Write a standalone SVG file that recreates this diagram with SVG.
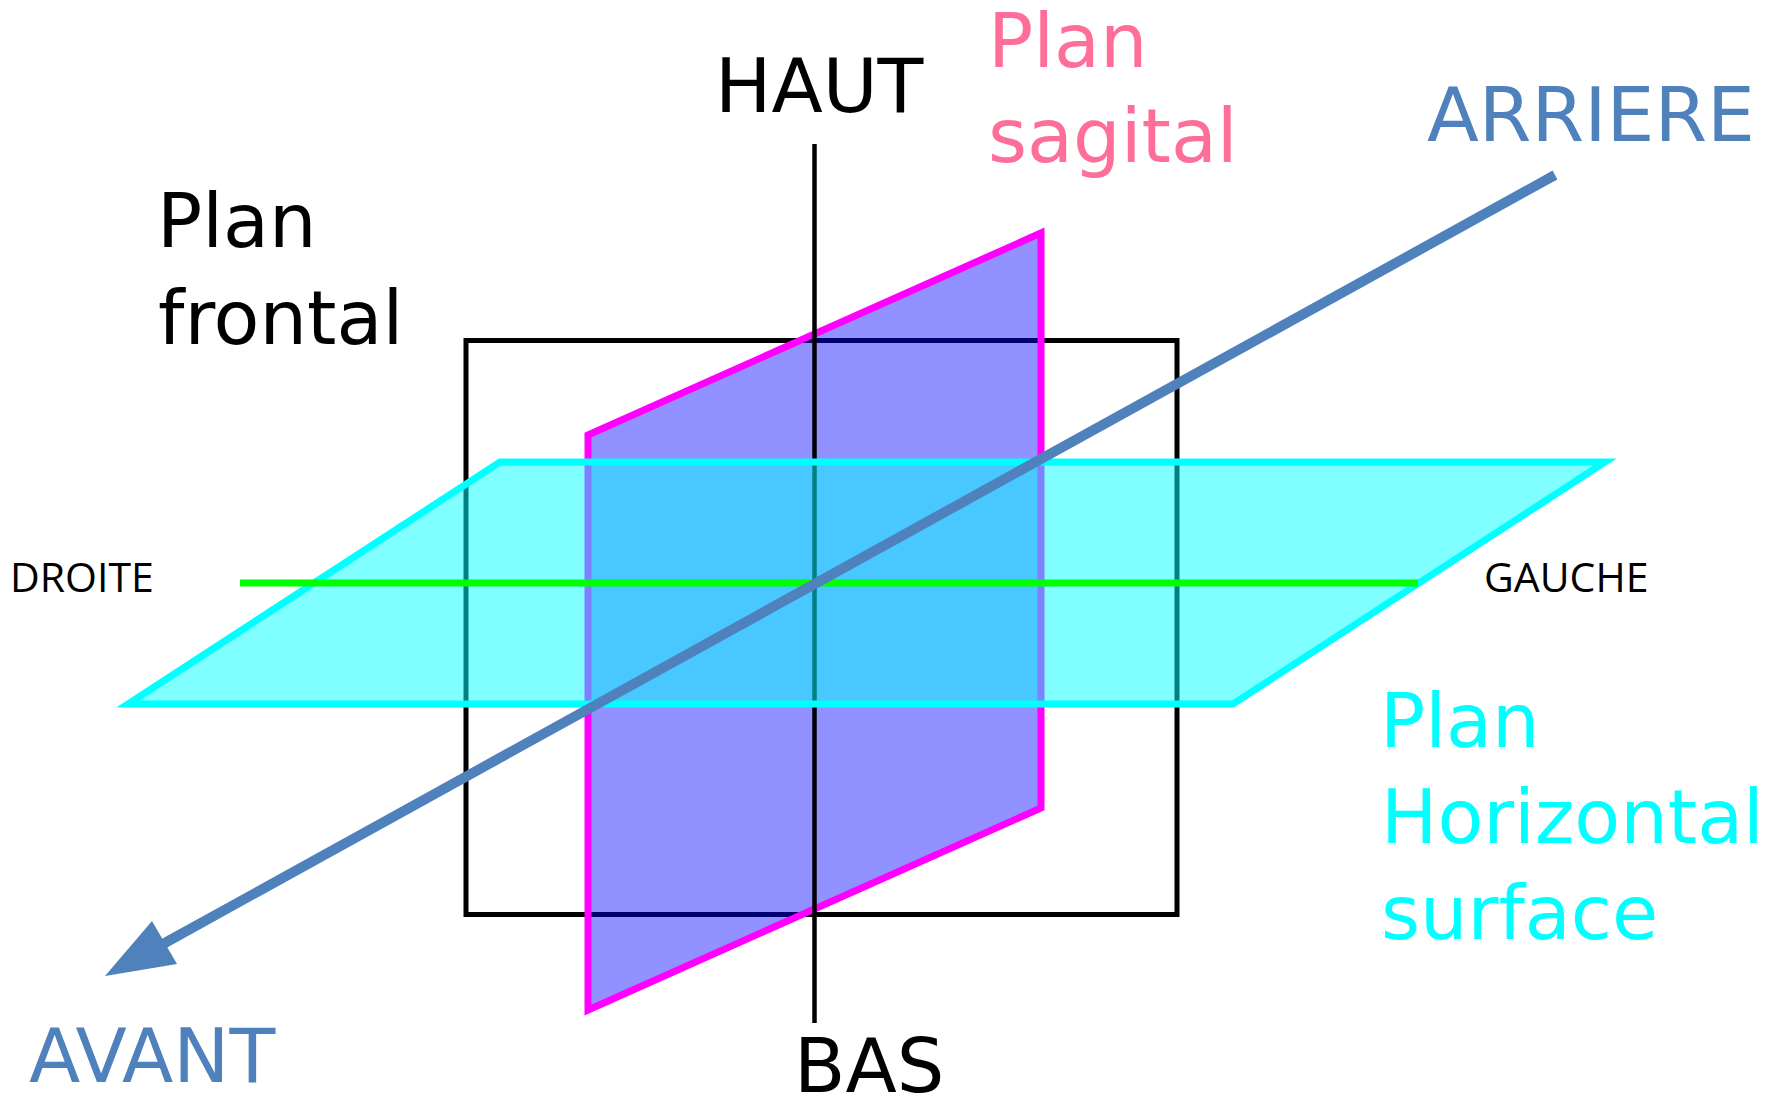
<svg xmlns="http://www.w3.org/2000/svg" width="1781" height="1097" viewBox="0 0 1781 1097">
  <style>
    .big { font-family: "DejaVu Sans", Verdana, sans-serif; font-size: 75px; }
    .small { font-family: "Open Sans", "DejaVu Sans", sans-serif; font-size: 41px; fill: #000000; }
    .black { fill: #000000; }
    .pink { fill: #FF6E99; }
    .steel { fill: #4F81BD; }
    .cyan { fill: #00FFFF; }
  </style>
  <rect width="1781" height="1097" fill="#FFFFFF"/>

  <g id="plan-frontal">
    <rect x="466" y="340.5" width="711" height="574" fill="none" stroke="#000000" stroke-width="5"/>
  </g>

  <g id="plan-sagital">
    <polygon points="588,435 1041,233 1041,808 588,1010" fill="#0000FF" fill-opacity="0.43" stroke="#FF00FF" stroke-width="7"/>
  </g>

  <g id="axe-vertical">
    <line x1="814.5" y1="144" x2="814.5" y2="1023" stroke="#000000" stroke-width="4.5"/>
  </g>

  <g id="plan-horizontal">
    <polygon points="500,462 1605,462 1233,704 128,704" fill="#00FFFF" fill-opacity="0.5" stroke="#00FFFF" stroke-width="7" stroke-linejoin="miter"/>
  </g>

  <g id="connectors">
    <line id="axe-droite-gauche" x1="240" y1="583" x2="1418" y2="583" stroke="#00FF00" stroke-width="7"/>
    <line id="axe-avant-arriere" x1="1555" y1="175" x2="163" y2="944" stroke="#4F81BD" stroke-width="10"/>
    <polygon points="105,976 152,921 177,964" fill="#4F81BD"/>
  </g>

  <g id="labels">
    <text class="big black" x="715" y="112">HAUT</text>
    <text class="big black" x="794" y="1092">BAS</text>
    <text class="big black" x="157" y="247">Plan</text>
    <text class="big black" x="158" y="344">frontal</text>
    <text class="big pink" x="988" y="67">Plan</text>
    <text class="big pink" x="988" y="162">sagital</text>
    <text class="big steel" x="1427" y="141" textLength="328" lengthAdjust="spacingAndGlyphs">ARRIERE</text>
    <text class="big steel" x="29" y="1082">AVANT</text>
    <text class="big cyan" x="1380" y="747">Plan</text>
    <text class="big cyan" x="1381" y="843">Horizontal</text>
    <text class="big cyan" x="1381" y="939">surface</text>
    <text class="small" x="10" y="592">DROITE</text>
    <text class="small" x="1484" y="592">GAUCHE</text>
  </g>
</svg>
